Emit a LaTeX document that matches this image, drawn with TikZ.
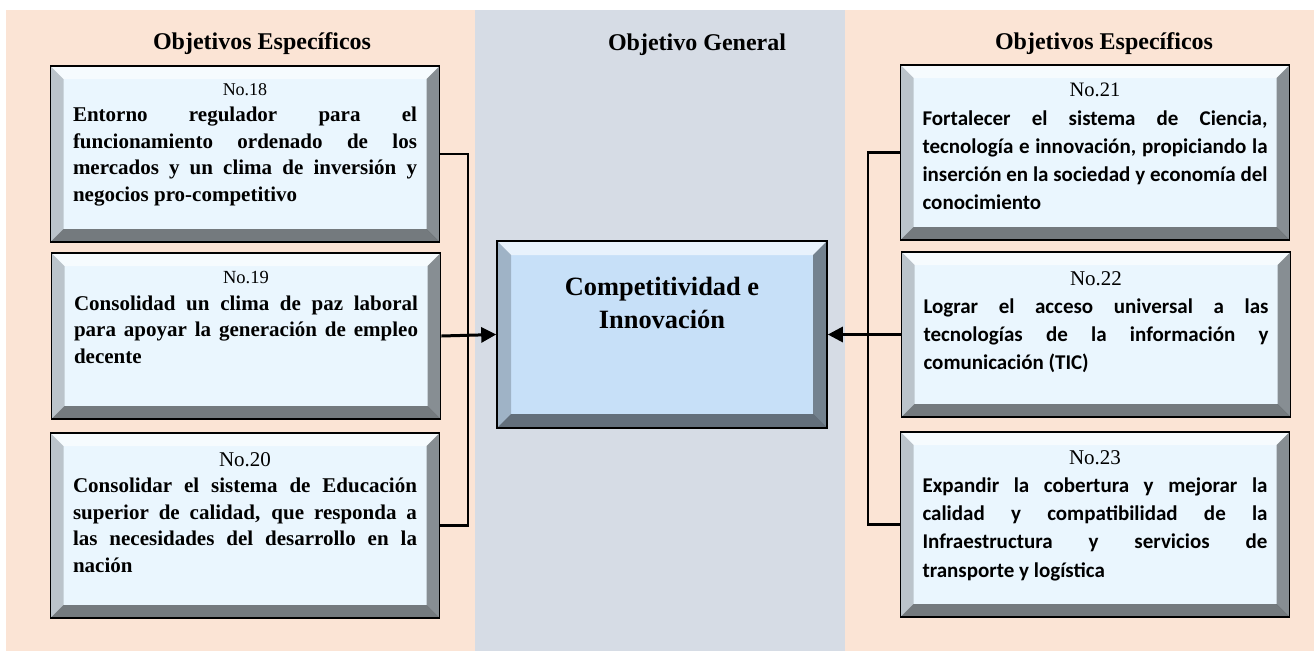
\documentclass[tikz,border=0pt]{standalone}
\usepackage{fontspec}
\setmainfont{Liberation Serif}
\newfontfamily\calibri{Carlito}
\usetikzlibrary{arrows.meta, positioning}

\definecolor{peach}{HTML}{FBE4D5}
\definecolor{slate}{HTML}{D6DCE5}
\definecolor{boxfill}{HTML}{EAF6FE}
\definecolor{genfill}{HTML}{C7E0F8}

\newcommand{\objnum}[2]{\hbox to\hsize{\hfil\normalfont\fontsize{#1}{#1}\selectfont #2\hfil}\par}

\tikzset{
  bevel/.style={path picture={
    \coordinate (bNW) at (path picture bounding box.north west);
    \coordinate (bNE) at (path picture bounding box.north east);
    \coordinate (bSW) at (path picture bounding box.south west);
    \coordinate (bSE) at (path picture bounding box.south east);
    \fill[white, opacity=.6] (bNW) -- (bNE) -- ([xshift=-#1, yshift=-#1]bNE) -- ([xshift=#1, yshift=-#1]bNW) -- cycle;
    \fill[black, opacity=.2] (bNW) -- ([xshift=#1, yshift=-#1]bNW) -- ([xshift=#1, yshift=#1]bSW) -- (bSW) -- cycle;
    \fill[black, opacity=.42] (bNE) -- ([xshift=-#1, yshift=-#1]bNE) -- ([xshift=-#1, yshift=#1]bSE) -- (bSE) -- cycle;
    \fill[black, opacity=.5] (bSW) -- ([xshift=#1, yshift=#1]bSW) -- ([xshift=-#1, yshift=#1]bSE) -- (bSE) -- cycle;
  }},
  objbox/.style={draw, line width=1.6pt, fill=boxfill, minimum width=389pt, inner sep=0pt, bevel=13pt},
  genbox/.style={draw, line width=1.6pt, fill=genfill, minimum width=330pt, minimum height=187pt, inner sep=0pt, bevel=14pt},
  para/.style={inner sep=0pt, align=justify,
    execute at begin node={\parindent=0pt\tolerance=10000\hyphenpenalty=10000\exhyphenpenalty=10000}},
  ltext/.style={para, text width=344pt, font=\bfseries\fontsize{21}{26.5}\selectfont},
  rtext/.style={para, text width=345pt, font=\calibri\bfseries\fontsize{21}{28.2}\selectfont},
  gentext/.style={inner sep=0pt, align=center, font=\bfseries\fontsize{26.4}{33}\selectfont},
  head/.style={anchor=base, font=\bfseries\fontsize{24}{28}\selectfont},
  bus/.style={line width=2.4pt},
  feed/.style={line width=3pt, -{Triangle[length=15pt, width=15pt]}}
}

\begin{document}
\begin{tikzpicture}[x=1pt, y=-1pt]
\useasboundingbox (0,0) rectangle (1314,651);
\fill[white] (0,0) rectangle (1314,651);
\fill[peach] (6,10) rectangle (475,651);
\fill[slate] (475,10) rectangle (845,651);
\fill[peach] (845,10) rectangle (1314,651);

\node[head] (HeadL) at (262,49) {Objetivos Específicos};
\node[head] (HeadG) at (697,50) {Objetivo General};
\node[head] (HeadR) at (1104,49) {Objetivos Específicos};

\node[objbox, minimum height=176pt] (Obj18) at (245,154) {};
\node[ltext, below=18pt of Obj18.north] (Txt18) {\objnum{18}{No.18}Entorno regulador para el\linebreak funcionamiento ordenado de los\linebreak mercados y un clima de inversión y\linebreak negocios pro-competitivo};

\node[objbox, minimum height=166pt] (Obj19) at (246,336) {};
\node[ltext, below=19pt of Obj19.north] (Txt19) {\objnum{18.5}{No.19}Consolidad un clima de paz laboral\linebreak para apoyar la generación de empleo\linebreak decente};

\node[objbox, minimum height=185pt] (Obj20) at (245,525.5) {};
\node[ltext, below=20pt of Obj20.north] (Txt20) {\objnum{21}{No.20}Consolidar el sistema de Educación\linebreak superior de calidad, que responda a\linebreak las necesidades del desarrollo en la\linebreak nación};

\node[genbox] (General) at (662,334.5) {};
\node[gentext, below=37pt of General.north] (GenTxt) {Competitividad e\\Innovación};

\node[objbox, minimum height=175pt] (Obj21) at (1095,152.5) {};
\node[rtext, below=19pt of Obj21.north] (Txt21) {\objnum{20.5}{No.21}Fortalecer el sistema de Ciencia,\linebreak tecnología e innovación, propiciando la\linebreak inserción en la sociedad y economía del\linebreak conocimiento};

\node[objbox, minimum height=165pt] (Obj22) at (1096,334.5) {};
\node[rtext, below=20pt of Obj22.north] (Txt22) {\objnum{21}{No.22}Lograr el acceso universal a las\linebreak tecnologías de la información y\linebreak comunicación (TIC)};

\node[objbox, minimum height=185pt] (Obj23) at (1095,524.5) {};
\node[rtext, below=19pt of Obj23.north] (Txt23) {\objnum{21}{No.23}Expandir la cobertura y mejorar la\linebreak calidad y compatibilidad de la\linebreak Infraestructura y servicios de\linebreak transporte y logística};

\coordinate (LBus) at (468,336);
\draw[bus] (Obj18.east) -| (LBus) |- (Obj20.east);
\draw[feed] (Obj19.east) -- (General.west);

\coordinate (RBus) at (868,334);
\draw[bus] (Obj21.west) -| (RBus) |- (Obj23.west);
\draw[feed] (Obj22.west) -- (General.east);
\end{tikzpicture}
\end{document}
